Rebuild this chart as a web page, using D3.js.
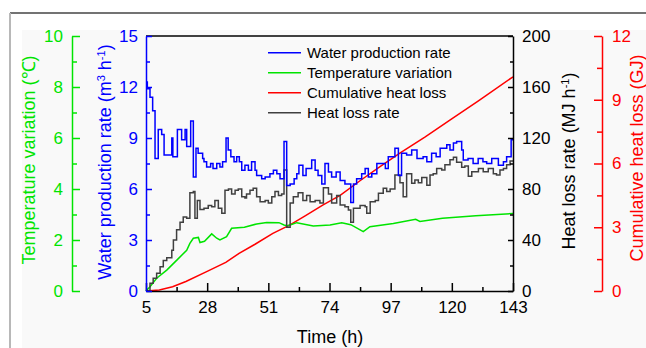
<!DOCTYPE html>
<html><head><meta charset="utf-8">
<script src="https://cdn.jsdelivr.net/npm/d3@7"></script>
<style>
html,body{margin:0;padding:0;background:#fff;}
svg{display:block;font-family:"Liberation Sans",Arial,sans-serif;}
</style></head>
<body><svg id="c" width="646" height="348"></svg>
<script>
// ---------- data ----------
const waterTime = [5,5.5,6.5,7.5,8.4,9.6,10.9,11.8,14.7,15.1,16.8,18.4,19.7,20.3,21.8,22.8,23.8,24.6,26.3,26.8,27.8,29.3,30.2,31.6,32.8,33.8,35.1,35.9,36.9,38.1,39.1,40.1,41.0,42.2,43.5,44.7,46.0,46.6,48.5,49.8,51.6,52.9,54.2,55.4,56.9,57.9,59.2,60.7,61.7,62.5,64.0,65.2,67.3,68.6,69.7,71.1,72.3,73.6,74.8,76.5,78.0,79.8,82.0,83.0,84.2,86.1,87.4,88.6,89.9,91.8,93.7,95.0,96.1,98.6,99.9,101.1,103.0,104.9,106.9,109.2,110.6,112.4,114.1,115.6,118.1,119.3,120.6,121.8,123.7,124.3,126.1,128.0,129.9,131.7,133.1,135.0,137.5,139.4,140.6,142.3,143];
const waterRate = [12.3,11.9,11.4,10.6,7.8,9.5,9.2,8.0,9.0,7.9,9.5,8.9,9.5,8.5,10.0,6.7,8.4,8.1,7.8,7.6,7.3,7.5,7.2,7.5,7.3,7.6,9.0,8.3,7.9,7.6,7.9,7.6,7.1,7.4,7.1,7.6,7.1,6.8,6.6,6.7,6.9,7.1,6.9,6.6,8.8,6.2,6.3,6.6,6.9,7.4,6.8,7.2,7.7,7.1,6.8,6.3,7.5,7.0,6.7,7.0,6.5,6.3,5.2,6.3,6.6,6.9,7.2,6.7,6.9,7.5,7.5,7.2,7.9,8.4,6.8,8.1,8.0,8.3,7.8,7.9,7.6,8.1,7.9,8.4,8.6,8.3,8.7,8.8,8.3,7.7,7.8,7.5,7.8,7.6,7.5,7.8,7.4,7.6,7.9,8.9,8.9];

const heatTime = [5,6.5,7.7,9.0,10.3,11.5,12.8,14.7,15.3,16.5,17.8,19.0,20.3,21.5,22.8,23.4,24.3,25.3,26.8,28.4,29.7,30.9,32.2,33.5,34.7,36.0,37.2,38.5,39.7,41.0,42.2,42.8,44.1,45.3,46.6,47.9,49.8,51.0,52.3,53.5,54.8,56.0,56.9,57.9,59.2,60.4,62.2,64.0,65.4,66.7,68.6,70.4,71.7,73.6,74.8,76.7,78.0,79.8,81.1,82.0,83.0,85.5,87.4,88.0,89.3,91.2,92.4,94.2,95.5,96.8,98.6,100.5,101.7,103.0,104.9,106.1,107.4,108.7,110.6,111.8,113.0,114.3,116.2,117.4,119.3,120.6,121.8,123.7,124.9,126.2,127.5,130.0,131.8,133.7,135.6,136.8,138.1,139.4,140.6,141.9,143];
const heatRate = [0,6,10,14,19,24,26,32,40,48,54,58,57,77,78,57,71,64,65,67,66,71,65,61,79,80,76,79,80,74,73,76,79,80.5,74,70,71,69,74,78,75,76,95,50,69,74,77,71,75,70,71,69,81,76,69,75,67.5,66,63.5,54,65,67,66,61,70,71,76.6,80.5,78,80,91,85,74,92,84.5,87,85,89,83,91,92,96,95,99,103,105,101,97,98,90,93.6,96,93.6,96,92,91,95,96,99,102,102];

const tempTime = [5,6.5,9,12.8,16.5,20.3,21.5,22.8,24.7,25.3,27,29.7,31.6,32.8,35.3,37.2,42,46.6,50.4,55,56.9,58,59.2,61.7,67.9,74.2,78.6,82,86.7,89.2,98,106.4,108,116.5,129,143];
const tempVar = [0,0.17,0.5,0.82,1.2,1.6,1.87,2.07,2.1,1.9,1.95,2.24,2.07,2.0,2.13,2.46,2.5,2.63,2.69,2.68,2.59,2.56,2.59,2.68,2.55,2.59,2.68,2.6,2.33,2.52,2.65,2.81,2.73,2.85,2.95,3.04];

const cumTime = [5,10,15,20,27.6,35,40,46,52.7,59,65,71.6,78,85.6,93,100.6,110,119.4,130,143];
const cumLoss = [0,0.05,0.2,0.45,0.9,1.35,1.77,2.2,2.71,3.1,3.55,4.05,4.5,5.2,5.85,6.5,7.25,8.05,8.95,10.08];

const xTicks = [5,28,51,74,97,120,143];
const waterTicks = [0,3,6,9,12,15];
const tempTicks = [0,2,4,6,8,10];
const heatTicks = [0,40,80,120,160,200];
const cumTicks = [0,3,6,9,12];
const legendNames = ["Water production rate","Temperature variation","Cumulative heat loss","Heat loss rate"];
const seriesColors = ["#0000ff","#00e400","#ff0000","#404040"];

// ---------- layout ----------
const L = 146, R = 513, T = 36, B = 291;
const svg = d3.select("#c");
const FS = 17;

// page frame
svg.append("rect").attr("x",22).attr("y",30).attr("width",624).attr("height",318).attr("fill","#f9f9f9");
svg.append("line").attr("x1",10).attr("x2",646).attr("y1",13).attr("y2",13).attr("stroke","#444").attr("stroke-width",1.5);
svg.append("line").attr("x1",10).attr("x2",10).attr("y1",13).attr("y2",348).attr("stroke","#b8b8b8").attr("stroke-width",2);

const x = d3.scaleLinear([5,143],[L,R]);
const yW = d3.scaleLinear([0,15],[B,T]);
const yT = d3.scaleLinear([0,10],[B,T]);
const yH = d3.scaleLinear([0,200],[B,T]);
const yC = d3.scaleLinear([0,12],[B,T]);

function mids(t){ const m=[]; for(let i=0;i<t.length-1;i++) m.push((t[i]+t[i+1])/2); return m; }

function styleAxis(g,color,fs){
  g.selectAll("path.domain").attr("stroke",color).attr("stroke-width",1.5);
  g.selectAll(".tick line").attr("stroke",color).attr("stroke-width",1.5);
  g.selectAll(".tick text").attr("fill",color).style("font-size",fs+"px").style("font-family","Liberation Sans, Arial, sans-serif");
}

function addAxis(axisFn, scale, ticks, pos, isX, color, major, minor, pad){
  const g = svg.append("g").attr("transform", isX ? `translate(0,${pos})` : `translate(${pos},0)`);
  const a = axisFn(scale).tickValues(ticks).tickSizeInner(major).tickSizeOuter(0).tickPadding(pad).tickFormat(d3.format("d"));
  g.call(a);
  styleAxis(g,color,FS);
  const gm = svg.append("g").attr("transform", isX ? `translate(0,${pos})` : `translate(${pos},0)`);
  gm.call(axisFn(scale).tickValues(mids(ticks)).tickSizeInner(minor).tickSizeOuter(0).tickFormat(""));
  gm.select("path.domain").remove();
  styleAxis(gm,color,FS);
  return g;
}

// plot top border
svg.append("line").attr("x1",L).attr("x2",R).attr("y1",T).attr("y2",T).attr("stroke","#000").attr("stroke-width",1.5);

// ---------- series ----------
const stepLine = (xs,ys,sy)=> d3.line().curve(d3.curveStepAfter).x((d,i)=>x(xs[i])).y((d,i)=>sy(ys[i]))(xs);
const smoothLine = (xs,ys,sy)=> d3.line().x((d,i)=>x(xs[i])).y((d,i)=>sy(ys[i]))(xs);

svg.append("path").attr("d",smoothLine(cumTime,cumLoss,yC)).attr("fill","none").attr("stroke",seriesColors[2]).attr("stroke-width",1.5);
svg.append("path").attr("d",smoothLine(tempTime,tempVar,yT)).attr("fill","none").attr("stroke",seriesColors[1]).attr("stroke-width",1.5);
svg.append("path").attr("d",stepLine(heatTime,heatRate,yH)).attr("fill","none").attr("stroke",seriesColors[3]).attr("stroke-width",1.5);
svg.append("path").attr("d",stepLine(waterTime,waterRate,yW)).attr("fill","none").attr("stroke",seriesColors[0]).attr("stroke-width",1.5);

// ---------- axes ----------
addAxis(d3.axisBottom, x, xTicks, B, true, "#000", -8, -4, 10);
addAxis(d3.axisLeft, yW, waterTicks, L, false, "#0000ff", -6, -4, 8);
addAxis(d3.axisRight, yH, heatTicks, R, false, "#000", -5, -3, 9);
addAxis(d3.axisLeft, yT, tempTicks, 72, false, "#00e400", -8, -5, 9);
addAxis(d3.axisRight, yC, cumTicks, 602, false, "#ff0000", -8, -5, 10);

// ---------- titles ----------
function vtitle(cx,cy,color,parts){
  const t = svg.append("text").attr("transform",`translate(${cx},${cy}) rotate(-90)`).attr("text-anchor","middle")
    .attr("fill",color).style("font-size","18px");
  parts.forEach(p=>{
    const s = t.append("tspan").text(p[0]);
    if(p[1]) s.attr("baseline-shift","super").style("font-size","11px");
  });
}
vtitle(35,160,"#00e400",[["Temperature variation (℃)"]]);
vtitle(111,162,"#0000ff",[["Water production rate (m"],["3",1],[" h"],["-1",1],[")"]]);
vtitle(575,161,"#000",[["Heat loss rate (MJ h"],["-1",1],[")"]]);
vtitle(643,158,"#ff0000",[["Cumulative heat loss (GJ)"]]);
svg.append("text").attr("x",330).attr("y",343).attr("text-anchor","middle").style("font-size","18px").attr("fill","#000").text("Time (h)");

// ---------- legend ----------
const lg = svg.append("g");
legendNames.forEach((n,i)=>{
  const yy = 52.7 + i*20;
  lg.append("line").attr("x1",268).attr("x2",301).attr("y1",yy).attr("y2",yy).attr("stroke",seriesColors[i]).attr("stroke-width",1.5);
  lg.append("text").attr("x",307).attr("y",yy).attr("dy","0.35em").style("font-size","15px").attr("fill","#000").text(n);
});
</script></body></html>
